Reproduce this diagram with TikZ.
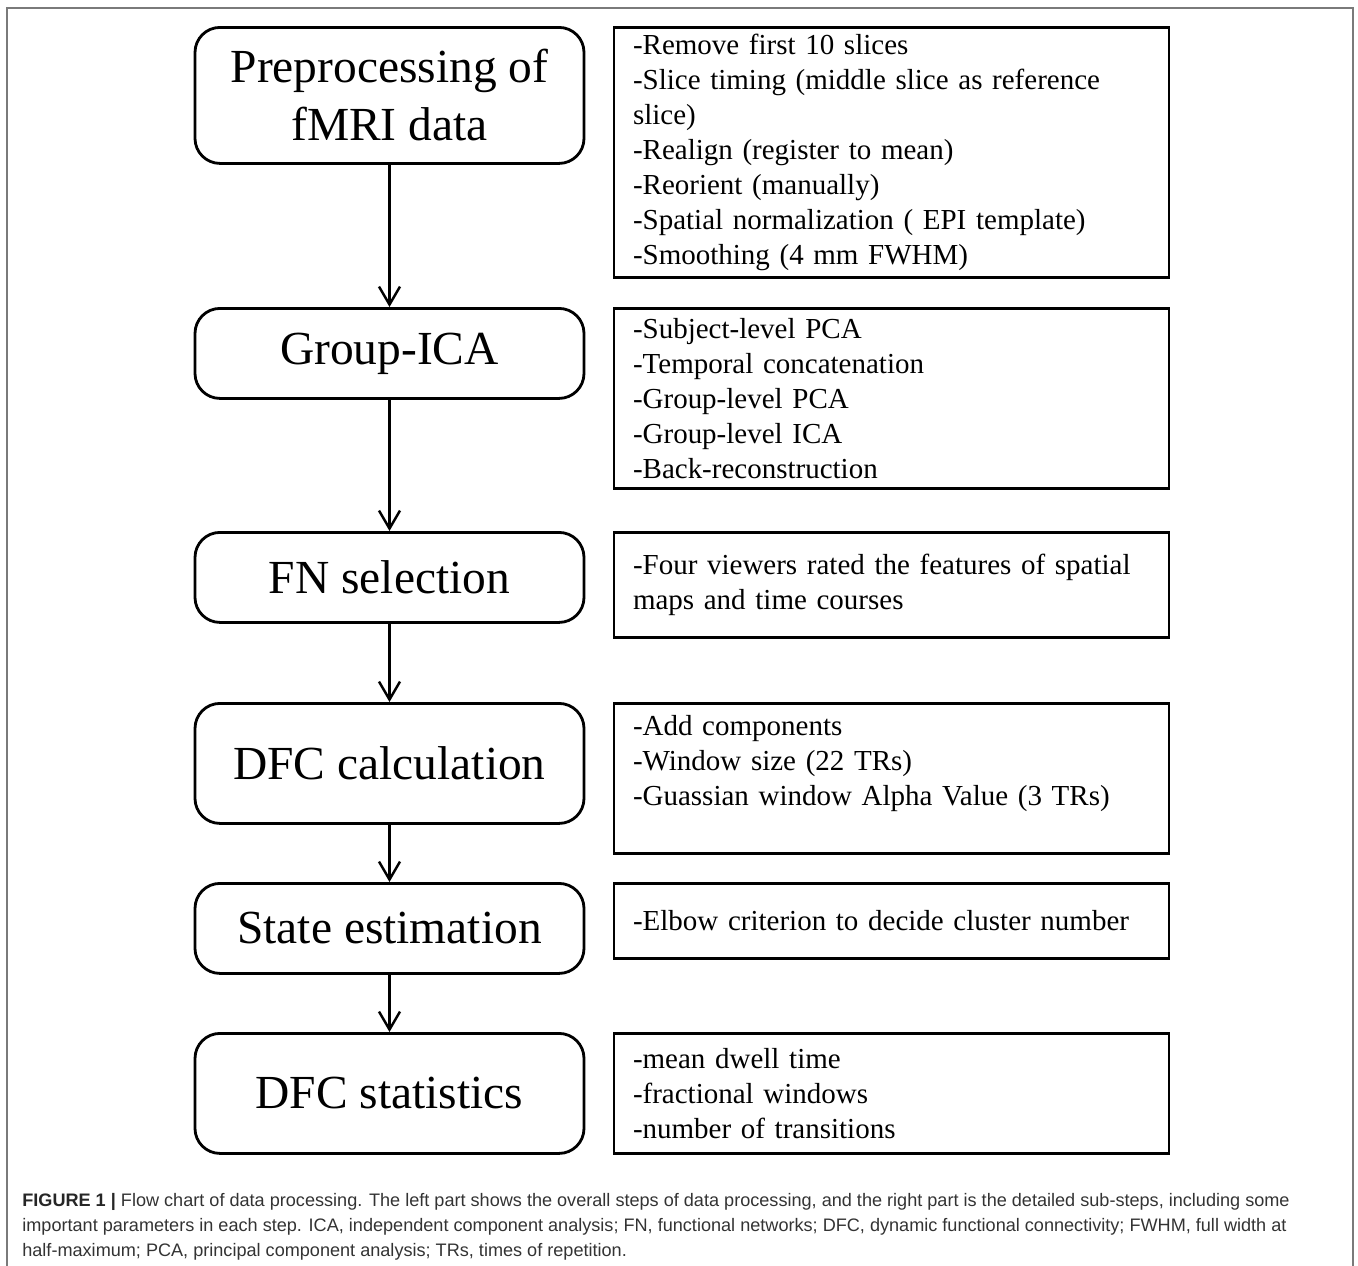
\documentclass[tikz,border=0pt]{standalone}
\usepackage{fontspec}
\setmainfont{Liberation Serif}
\newfontfamily\capfont{Liberation Sans}
\definecolor{framegray}{HTML}{7A7A7A}
\definecolor{capgray}{HTML}{333333}
\usetikzlibrary{positioning, arrows.meta}
\tikzset{
  stepbox/.style={draw, line width=1.6pt, rounded corners=0.5cm, minimum width=7.78cm,
    anchor=north, align=center, font=\fontsize{27}{33}\selectfont},
  notebox/.style={draw, line width=1.6pt, text width=10.34cm, inner xsep=0.38cm,
    anchor=north, align=left, font=\fontsize{16.5}{19.9}\selectfont},
  flow/.style={-{Straight Barb[length=0.36cm, width=0.42cm]}, line width=1.4pt},
}

\begin{document}
\begin{tikzpicture}
  \useasboundingbox (0,0) rectangle (27.16,-25.3);
  % Outer frame
  \draw[framegray, line width=0.8pt] (0.14,-25.4) -- (0.14,-0.16) -- (27.06,-0.16) -- (27.06,-25.4);

  % Main steps
  \node[stepbox, minimum height=2.72cm] (prep) at (7.79,-0.52) {Preprocessing of\\fMRI data};
  \node[stepbox, minimum height=1.8cm] (gica) at (7.79,-6.14) {Group-ICA};
  \node[stepbox, minimum height=1.8cm] (fnsel) at (7.79,-10.62) {FN selection};
  \node[stepbox, minimum height=2.4cm] (dfccalc) at (7.79,-14.04) {DFC calculation};
  \node[stepbox, minimum height=1.8cm] (state) at (7.79,-17.64) {State estimation};
  \node[stepbox, minimum height=2.4cm] (dfcstat) at (7.79,-20.64) {DFC statistics};

  \foreach \a/\b in {prep/gica, gica/fnsel, fnsel/dfccalc, dfccalc/state, state/dfcstat}
    \draw[flow] (\a.south) -- (\b.north);

  % Sub-steps
  \node[notebox, minimum height=5cm] (prepnote) at (17.83,-0.52) {-Remove first 10 slices\\-Slice timing (middle slice as reference\\slice)\\-Realign (register to mean)\\-Reorient (manually)\\-Spatial normalization ( EPI template)\\-Smoothing (4 mm FWHM)};
  \node[notebox, minimum height=3.6cm] (gicanote) at (17.83,-6.14) {-Subject-level PCA\\-Temporal concatenation\\-Group-level PCA\\-Group-level ICA\\-Back-reconstruction};
  \node[notebox, minimum height=2.1cm] (fnnote) at (17.83,-10.62) {-Four viewers rated the features of spatial\\maps and time courses};
  \node[notebox, minimum height=3cm, text depth=2.11cm] (dfcnote) at (17.83,-14.04) {-Add components\\-Window size (22 TRs)\\-Guassian window Alpha Value (3 TRs)};
  \node[notebox, minimum height=1.5cm] (statenote) at (17.83,-17.64) {-Elbow criterion to decide cluster number};
  \node[notebox, minimum height=2.4cm] (statnote) at (17.83,-20.64) {-mean dwell time\\-fractional windows\\-number of transitions};

  % Caption
  \node[anchor=north west, inner sep=0pt, align=left, text=capgray, font=\capfont\fontsize{10.3}{14.3}\selectfont] (caption) at (0.44,-23.86)
    {{\bfseries\color{black!85} FIGURE 1 |} Flow chart of data processing. The left part shows the overall steps of data processing, and the right part is the detailed sub-steps, including some\\important parameters in each step. ICA, independent component analysis; FN, functional networks; DFC, dynamic functional connectivity; FWHM, full width at\\half-maximum; PCA, principal component analysis; TRs, times of repetition.};
\end{tikzpicture}
\end{document}
